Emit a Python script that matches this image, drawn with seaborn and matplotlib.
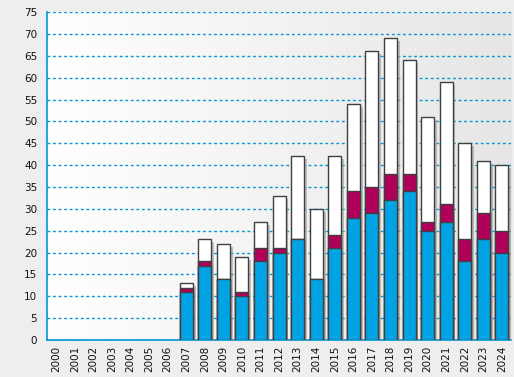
import numpy as np
import pandas as pd
import seaborn as sns
import matplotlib
matplotlib.use('Agg')
import matplotlib.pyplot as plt
import matplotlib.patheffects as pe

# Data
years = [str(y) for y in range(2000, 2025)]
blue = [0, 0, 0, 0, 0, 0, 0, 11, 17, 14, 10, 18, 20, 23, 14, 21, 28, 29, 32, 34, 25, 27, 18, 23, 20]
red = [0, 0, 0, 0, 0, 0, 0, 1, 1, 0, 1, 3, 1, 0, 0, 3, 6, 6, 6, 4, 2, 4, 5, 6, 5]
white = [0, 0, 0, 0, 0, 0, 0, 1, 5, 8, 8, 6, 12, 19, 16, 18, 20, 31, 31, 26, 24, 28, 22, 12, 15]

df = pd.DataFrame({'year': years, 'blue': blue, 'red': red, 'white': white})
df['blue_red'] = df['blue'] + df['red']
df['total'] = df['blue_red'] + df['white']

sns.set_style('white')
plt.rcParams['font.family'] = ['DejaVu Sans']

fig = plt.figure(figsize=(5.14, 3.77), dpi=100, facecolor='#eeeeee')
ax = fig.add_axes([0.0915, 0.098, 0.903, 0.87])

# gradient background of plot area
grad = np.linspace(0, 1, 256).reshape(1, -1)
ax.imshow(grad, extent=[-0.5, 24.5, 0, 75], aspect='auto', zorder=0,
          cmap=matplotlib.colors.LinearSegmentedColormap.from_list('bg', ['#ffffff', '#e6e6e6']))

edge = '#404040'
w = 0.7
nonzero = df['total'] > 0
sns.barplot(data=df, x='year', y='total', color='white', edgecolor=edge, linewidth=1,
            width=w, saturation=1, ax=ax, zorder=3)
sns.barplot(data=df, x='year', y='blue_red', color='#b0005a', edgecolor=edge, linewidth=1,
            width=w, saturation=1, ax=ax, zorder=4)
sns.barplot(data=df, x='year', y='blue', color='#00a4e4', edgecolor=edge, linewidth=1,
            width=w, saturation=1, ax=ax, zorder=5)

# shadow on the outer bars
n = len(years)
for p in ax.patches[:n]:
    if p.get_height() > 0:
        p.set_path_effects([pe.SimplePatchShadow(offset=(2, -2), shadow_rgbFace='#999999', alpha=0.6),
                            pe.Normal()])
for p in ax.patches:
    if p.get_height() == 0:
        p.set_visible(False)

ax.set_xlim(-0.5, 24.5)
ax.set_ylim(0, 75)
ax.set_yticks(range(0, 80, 5))
ax.set_xlabel('')
ax.set_ylabel('')

line_c = '#0096d6'
ax.yaxis.grid(True, color=line_c, linestyle=(0, (2, 2)), linewidth=1)
ax.set_axisbelow(True)
for s in ['top', 'right']:
    ax.spines[s].set_visible(False)
for s in ['left', 'bottom']:
    ax.spines[s].set_color(line_c)
    ax.spines[s].set_linewidth(1.2)

ax.set_xticks(np.arange(-0.5, 25, 1), minor=True)
ax.tick_params(axis='x', which='major', length=0, labelsize=7.5, rotation=90, pad=4)
ax.tick_params(axis='x', which='minor', length=4, color=line_c, direction='out')
ax.tick_params(axis='y', length=5, color=line_c, direction='out', labelsize=7.5, pad=2)
ax.tick_params(axis='both', labelcolor='#111111')

fig.savefig('out.png', dpi=100, facecolor=fig.get_facecolor())
